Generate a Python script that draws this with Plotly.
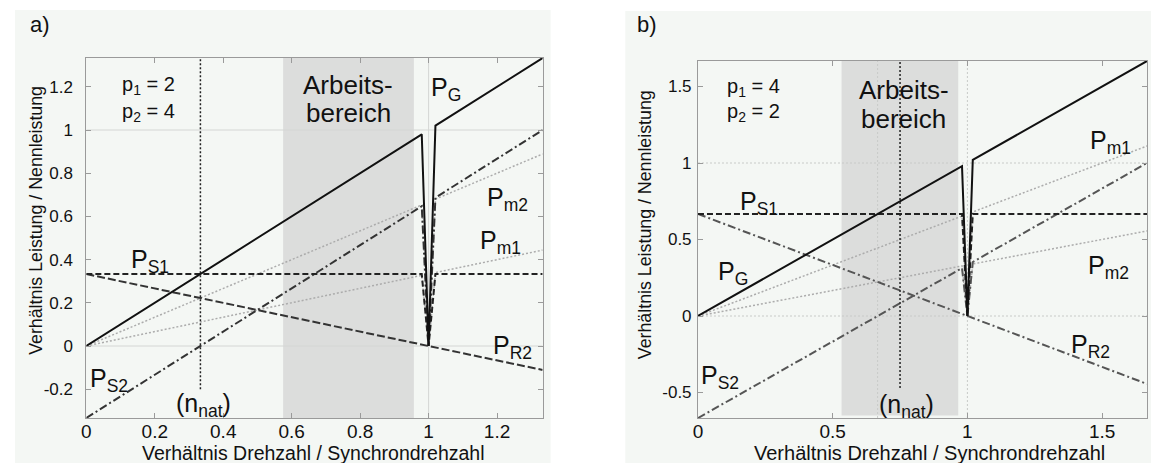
import plotly.graph_objects as go

# ---------------- data ----------------
# Panel a)  p1 = 2, p2 = 4
x_a   = [0, 0.98, 1.0, 1.02, 1.3333]
PG_a  = [0, 0.98, 0.0, 1.02, 1.3333]
PS1_a = [0.333, 0.333, 0.0, 0.333, 0.333]
PR2_a = [0.333, 0.007, 0.0, -0.007, -0.111]
PS2_a = [-0.333, 0.647, 0.0, 0.687, 1.0]
Pm1_a = [0, 0.327, 0.0, 0.34, 0.444]
Pm2_a = [0, 0.653, 0.0, 0.68, 0.889]
nnat_a = 0.3333
nnat_a_y = [-0.2, 1.3333]
arbeit_a = [0.575, 0.957]
xrange_a = [0, 1.3333]
yrange_a = [-0.3333, 1.3333]
xticks_a = [0, 0.2, 0.4, 0.6, 0.8, 1.0, 1.2]
xticklabels_a = ["0", "0.2", "0.4", "0.6", "0.8", "1", "1.2"]
yticks_a = [-0.2, 0, 0.2, 0.4, 0.6, 0.8, 1.0, 1.2]
yticklabels_a = ["-0.2", "0", "0.2", "0.4", "0.6", "0.8", "1", "1.2"]
gridx_a = [1.0]
gridy_a = [0.0, 1.0]

# Panel b)  p1 = 4, p2 = 2
x_b   = [0, 0.98, 1.0, 1.02, 1.6667]
PG_b  = [0, 0.98, 0.0, 1.02, 1.6667]
PS1_b = [0.667, 0.667, 0.0, 0.667, 0.667]
PR2_b = [0.667, 0.013, 0.0, -0.013, -0.444]
PS2_b = [-0.667, 0.313, 0.0, 0.353, 1.0]
Pm1_b = [0, 0.653, 0.0, 0.68, 1.111]
Pm2_b = [0, 0.327, 0.0, 0.34, 0.556]
nnat_b = 0.75
nnat_b_y = [-0.47, 1.6667]
arbeit_b = [0.533, 0.966]
arbeit_b_y = [-0.65, 1.6667]
xrange_b = [0, 1.6667]
yrange_b = [-0.6667, 1.6667]
xticks_b = [0, 0.5, 1.0, 1.5]
xticklabels_b = ["0", "0.5", "1", "1.5"]
yticks_b = [-0.5, 0, 0.5, 1.0, 1.5]
yticklabels_b = ["-0.5", "0", "0.5", "1", "1.5"]
gridx_b = [0.6667, 1.0]
gridy_b = [0.0, 1.0]

W, H = 1151, 463
FONT = "Liberation Sans, Arial, Helvetica, sans-serif"

fig = go.Figure()

def add_lines(xs, series, xa, ya, r2dash, r2color):
    pm1, pm2, pr2, ps2, ps1, pg = series
    common = dict(mode="lines", showlegend=False, hoverinfo="skip", xaxis=xa, yaxis=ya)
    fig.add_trace(go.Scatter(x=xs, y=pm1, line=dict(color="#acacac", width=1.5, dash="2px,2px"), **common))
    fig.add_trace(go.Scatter(x=xs, y=pm2, line=dict(color="#acacac", width=1.5, dash="2px,2px"), **common))
    fig.add_trace(go.Scatter(x=xs, y=pr2, line=dict(color=r2color, width=2, dash=r2dash), **common))
    fig.add_trace(go.Scatter(x=xs, y=ps2, line=dict(color=r2color, width=2, dash="8px,3px,2px,3px"), **common))
    fig.add_trace(go.Scatter(x=xs, y=ps1, line=dict(color="#222222", width=2, dash="6px,3px"), **common))
    fig.add_trace(go.Scatter(x=xs, y=pg, line=dict(color="#111111", width=2), **common))

add_lines(x_a, [Pm1_a, Pm2_a, PR2_a, PS2_a, PS1_a, PG_a], "x", "y", "8px,3px", "#333333")
add_lines(x_b, [Pm1_b, Pm2_b, PR2_b, PS2_b, PS1_b, PG_b], "x2", "y2", "8px,3px,2px,3px", "#555555")

# n_nat vertical dotted lines
fig.add_trace(go.Scatter(x=[nnat_a, nnat_a], y=nnat_a_y, mode="lines", showlegend=False, hoverinfo="skip",
                         line=dict(color="#222222", width=1.5, dash="2px,2px"), xaxis="x", yaxis="y"))
fig.add_trace(go.Scatter(x=[nnat_b, nnat_b], y=nnat_b_y, mode="lines", showlegend=False, hoverinfo="skip",
                         line=dict(color="#222222", width=1.5, dash="2px,2px"), xaxis="x2", yaxis="y2"))

shapes = []
def prect(x0, y0, x1, y1, color):
    return dict(type="rect", xref="paper", yref="paper", x0=x0 / W, x1=x1 / W,
                y0=1 - y1 / H, y1=1 - y0 / H, fillcolor=color, line=dict(width=0), layer="below")
shapes.append(prect(10, 10, 548, 463, "#f4f7f4"))
shapes.append(prect(623, 11, 1151, 463, "#f4f7f4"))

# Arbeitsbereich shading
shapes.append(dict(type="rect", xref="x", yref="y", x0=arbeit_a[0], x1=arbeit_a[1],
                   y0=yrange_a[0], y1=yrange_a[1], fillcolor="#dcdddc", line=dict(width=0), layer="below"))
shapes.append(dict(type="rect", xref="x2", yref="y2", x0=arbeit_b[0], x1=arbeit_b[1],
                   y0=arbeit_b_y[0], y1=arbeit_b_y[1], fillcolor="#dcdddc", line=dict(width=0), layer="below"))

# faint grid lines
for gx in gridx_a:
    shapes.append(dict(type="line", xref="x", yref="y", x0=gx, x1=gx, y0=yrange_a[0], y1=yrange_a[1],
                       line=dict(color="#d4d6d4", width=1), layer="below"))
for gy in gridy_a:
    shapes.append(dict(type="line", xref="x", yref="y", x0=xrange_a[0], x1=xrange_a[1], y0=gy, y1=gy,
                       line=dict(color="#d4d6d4", width=1), layer="below"))
for gx in gridx_b:
    shapes.append(dict(type="line", xref="x2", yref="y2", x0=gx, x1=gx, y0=yrange_b[0], y1=yrange_b[1],
                       line=dict(color="#c8cac8", width=1, dash="2px,2px"), layer="below"))
for gy in gridy_b:
    shapes.append(dict(type="line", xref="x2", yref="y2", x0=xrange_b[0], x1=xrange_b[1], y0=gy, y1=gy,
                       line=dict(color="#c8cac8", width=1, dash="2px,2px"), layer="below"))

ann = []
def t(text, x, y, xr, yr, size=25, xanchor="center", yanchor="middle"):
    ann.append(dict(text=text, x=x, y=y, xref=xr, yref=yr, showarrow=False,
                    font=dict(family=FONT, size=size, color="#111111"),
                    xanchor=xanchor, yanchor=yanchor))

# panel a labels
t("p<sub>1</sub> = 2", 0.097, 1.207, "x", "y", size=20, xanchor="left")
t("p<sub>2</sub> = 4", 0.097, 1.083, "x", "y", size=20, xanchor="left")
t("Arbeits-", 0.765, 1.207, "x", "y", size=26)
t("bereich", 0.765, 1.078, "x", "y", size=26)
t("P<sub>G</sub>", 1.05, 1.19, "x", "y")
t("P<sub>m2</sub>", 1.232, 0.68, "x", "y")
t("P<sub>m1</sub>", 1.21, 0.48, "x", "y")
t("P<sub>S1</sub>", 0.186, 0.395, "x", "y")
t("P<sub>R2</sub>", 1.244, -0.003, "x", "y")
t("P<sub>S2</sub>", 0.065, -0.158, "x", "y")
t("(n<sub>nat</sub>)", 0.343, -0.275, "x", "y")

# panel b labels
t("p<sub>1</sub> = 4", 0.10, 1.493, "x2", "y2", size=20, xanchor="left")
t("p<sub>2</sub> = 2", 0.10, 1.332, "x2", "y2", size=20, xanchor="left")
t("Arbeits-", 0.763, 1.478, "x2", "y2", size=26)
t("bereich", 0.763, 1.290, "x2", "y2", size=26)
t("P<sub>m1</sub>", 1.53, 1.14, "x2", "y2")
t("P<sub>S1</sub>", 0.228, 0.74, "x2", "y2")
t("P<sub>G</sub>", 0.13, 0.28, "x2", "y2")
t("P<sub>m2</sub>", 1.522, 0.32, "x2", "y2")
t("P<sub>R2</sub>", 1.456, -0.198, "x2", "y2")
t("P<sub>S2</sub>", 0.08, -0.398, "x2", "y2")
t("(n<sub>nat</sub>)", 0.774, -0.585, "x2", "y2")

def pt(text, px, py, size, angle=0):
    ann.append(dict(text=text, x=px / W, y=1 - py / H, xref="paper", yref="paper", showarrow=False,
                    font=dict(family=FONT, size=size, color="#111111"), textangle=angle,
                    xanchor="center", yanchor="middle"))
pt("a)", 35, 25, 22)
pt("b)", 645, 25, 22)
xtitle = "Verhältnis Drehzahl / Synchrondrehzahl"
ytitle = "Verhältnis Leistung / Nennleistung"
pt(xtitle, 310, 453, 19.5)
pt(xtitle, 929, 453, 20)
pt(ytitle, 31, 220, 17.8, -90)
pt(ytitle, 643, 225, 17.8, -90)

axis_common = dict(showgrid=False, zeroline=False, showline=True, linecolor="#9a9a9a", linewidth=1,
                   mirror="ticks", ticks="inside", ticklen=5, tickcolor="#9a9a9a", tickmode="array")

fig.update_layout(
    width=W, height=H,
    margin=dict(l=0, r=0, t=0, b=0),
    paper_bgcolor="#ffffff", plot_bgcolor="rgba(0,0,0,0)",
    showlegend=False,
    font=dict(family=FONT, color="#111111"),
    xaxis=dict(domain=[81.7 / W, 540 / W], range=xrange_a, tickvals=xticks_a, ticktext=xticklabels_a,
               tickfont=dict(size=19, family=FONT, color="#111111"), anchor="y", ticklabelstandoff=-4,
               **axis_common),
    yaxis=dict(domain=[1 - 418 / H, 1 - 58 / H], range=yrange_a, tickvals=yticks_a, ticktext=yticklabels_a,
               tickfont=dict(size=17, family=FONT, color="#111111"), anchor="x", ticklabelstandoff=9, **axis_common),
    xaxis2=dict(domain=[696 / W, 1147 / W], range=xrange_b, tickvals=xticks_b, ticktext=xticklabels_b,
                tickfont=dict(size=19, family=FONT, color="#111111"), anchor="y2", ticklabelstandoff=-4,
                **axis_common),
    yaxis2=dict(domain=[1 - 418 / H, 1 - 61 / H], range=yrange_b, tickvals=yticks_b, ticktext=yticklabels_b,
                tickfont=dict(size=17, family=FONT, color="#111111"), anchor="x2", ticklabelstandoff=2, **axis_common),
    shapes=shapes,
    annotations=ann,
)

fig.write_html("out.html", config={"displayModeBar": False},
               post_script="document.body.style.margin='0';document.body.style.overflow='hidden';")
